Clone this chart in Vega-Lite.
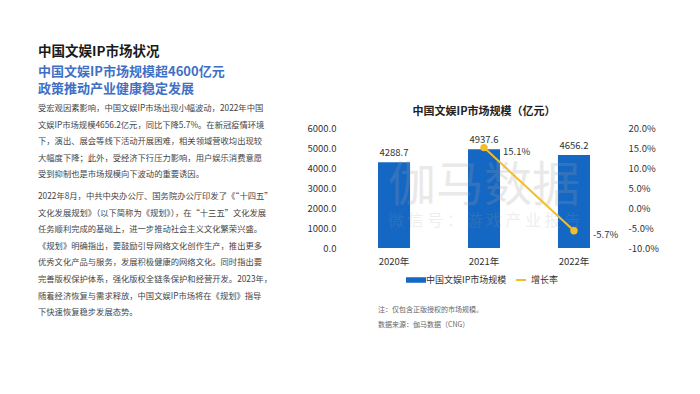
{
  "$schema": "https://vega.github.io/schema/vega-lite/v6.json",
  "background": "white",
  "padding": {"left": 38, "top": 44, "right": 5, "bottom": 5},
  "config": {
    "font": "Noto Sans CJK SC",
    "view": {"stroke": null},
    "axis": {"labelOverlap": false},
    "legend": {"layout": {"bottom": {"anchor": "middle"}}}
  },
  "title": {
    "text": "中国文娱IP市场状况",
    "subtitle": ["中国文娱IP市场规模超4600亿元", "政策推动产业健康稳定发展"],
    "anchor": "start",
    "fontSize": 13.5,
    "fontWeight": "bold",
    "color": "#1a1a1a",
    "subtitleColor": "#3f70c6",
    "subtitleFontSize": 13,
    "subtitleFontWeight": "bold",
    "subtitleLineHeight": 17,
    "subtitlePadding": 8,
    "offset": 8
  },
  "spacing": 18,
  "resolve": {"scale": {"fill": "independent", "stroke": "independent"}},
  "hconcat": [
    {
      "width": 250,
      "height": 88,
      "data": {
        "values": [
          {"para": "p1", "text": "受宏观因素影响，中国文娱IP市场出现小幅波动，2022年中国\n文娱IP市场规模4656.2亿元，同比下降5.7%。在新冠疫情环境\n下，演出、展会等线下活动开展困难，相关领域营收均出现较\n大幅度下降；此外，受经济下行压力影响，用户娱乐消费意愿\n受到抑制也是市场规模向下波动的重要诱因。"},
          {"para": "p2", "text": "2022年8月，中共中央办公厅、国务院办公厅印发了《“十四五”\n文化发展规划》（以下简称为《规划》），在“十三五”文化发展\n任务顺利完成的基础上，进一步推动社会主义文化繁荣兴盛。\n《规划》明确指出，要鼓励引导网络文化创作生产，推出更多\n优秀文化产品与服务，发展积极健康的网络文化。同时指出要\n完善版权保护体系，强化版权全链条保护和经营开发。2023年，\n随着经济恢复与需求释放，中国文娱IP市场将在《规划》指导\n下快速恢复稳步发展态势。"}
        ]
      },
      "mark": {"type": "text", "align": "left", "baseline": "top", "dy": -24, "fontSize": 8.3, "lineHeight": 16.6, "lineBreak": "\n", "color": "#454545"},
      "encoding": {
        "x": {"datum": 0, "type": "quantitative", "scale": {"domain": [0, 1]}, "axis": null},
        "y": {"field": "para", "type": "ordinal", "scale": {"type": "point", "padding": 0}, "axis": null},
        "text": {"field": "text"}
      }
    },
    {
      "spacing": 21,
      "resolve": {"scale": {"fill": "independent", "stroke": "independent"}},
      "vconcat": [
        {
          "width": 278,
          "height": 120,
          "title": {"text": "中国文娱IP市场规模（亿元）", "fontSize": 11, "fontWeight": "bold", "color": "#222222", "offset": 6, "anchor": "middle"},
          "data": {
            "values": [
              {"year": "2020年", "size": 4288.7, "growth": null, "growthLabel": null},
              {"year": "2021年", "size": 4937.6, "growth": 0.151, "growthLabel": "15.1%"},
              {"year": "2022年", "size": 4656.2, "growth": -0.057, "growthLabel": "-5.7%"}
            ]
          },
          "encoding": {
            "x": {
              "field": "year", "type": "nominal", "sort": null,
              "scale": {"type": "band", "domain": ["2020年", "2021年", "2022年"], "paddingInner": 0.644, "paddingOuter": 0.367},
              "axis": {"title": null, "labelAngle": 0, "domain": false, "ticks": false, "labelPadding": 8, "labelFontSize": 9.5, "labelColor": "#333333"}
            }
          },
          "layer": [
            {
              "layer": [
                {
                  "mark": {"type": "bar"},
                  "encoding": {
                    "y": {
                      "field": "size", "type": "quantitative",
                      "scale": {"domain": [0, 6000], "nice": false},
                      "axis": {"title": null, "tickCount": 6, "format": ".1f", "labelOverlap": false, "domain": false, "ticks": false, "grid": false, "labelPadding": 9, "labelFontSize": 9.5, "labelColor": "#333333"}
                    },
                    "fill": {
                      "datum": "中国文娱IP市场规模",
                      "scale": {"range": ["#1467c3"]},
                      "legend": {"title": null, "orient": "bottom", "symbolType": "M-2,-0.55H2V0.55H-2Z", "symbolSize": 100, "labelFontSize": 9, "labelColor": "#333333", "offset": 8}
                    }
                  }
                },
                {
                  "data": {"values": [{"wm": "伽马数据"}]},
                  "mark": {"type": "text", "fontSize": 48, "color": "#a0a0a0", "opacity": 0.22, "baseline": "middle", "align": "center"},
                  "encoding": {
                    "x": {"datum": "2021年"},
                    "y": {"datum": 3050, "type": "quantitative"},
                    "text": {"field": "wm"}
                  }
                },
                {
                  "data": {"values": [{"wm": "微 信 号 ： 游 戏 产 业 报 告"}]},
                  "mark": {"type": "text", "fontSize": 16, "color": "#a0a0a0", "opacity": 0.17, "baseline": "middle", "align": "center"},
                  "encoding": {
                    "x": {"datum": "2021年"},
                    "y": {"datum": 1350, "type": "quantitative"},
                    "text": {"field": "wm"}
                  }
                },
                {
                  "mark": {"type": "text", "baseline": "bottom", "dy": -4, "fontSize": 9.5, "color": "#333333"},
                  "encoding": {
                    "y": {"field": "size", "type": "quantitative"},
                    "text": {"field": "size", "type": "quantitative", "format": ".1f"}
                  }
                }
              ]
            },
            {
              "transform": [{"filter": "datum.growth != null"}],
              "layer": [
                {
                  "mark": {"type": "line", "strokeWidth": 2},
                  "encoding": {
                    "y": {
                      "field": "growth", "type": "quantitative",
                      "scale": {"domain": [-0.1, 0.2], "nice": false},
                      "axis": {"orient": "right", "title": null, "tickCount": 6, "format": ".1%", "labelExpr": "replace(datum.label, '−', '-')", "labelOverlap": false, "domain": false, "ticks": false, "grid": false, "labelPadding": 5, "labelFontSize": 9.5, "labelColor": "#333333"}
                    },
                    "stroke": {
                      "datum": "增长率",
                      "scale": {"range": ["#f2be2c"]},
                      "legend": {"title": null, "orient": "bottom", "symbolType": "stroke", "symbolStrokeWidth": 2, "symbolSize": 100, "labelFontSize": 9, "labelColor": "#333333", "offset": 8}
                    }
                  }
                },
                {
                  "mark": {"type": "point", "filled": true, "size": 55, "color": "#f2be2c", "opacity": 1},
                  "encoding": {
                    "y": {"field": "growth", "type": "quantitative"}
                  }
                },
                {
                  "mark": {"type": "text", "align": "left", "baseline": "middle", "dx": 19, "dy": 4, "fontSize": 9.5, "color": "#333333"},
                  "encoding": {
                    "y": {"field": "growth", "type": "quantitative"},
                    "text": {"field": "growthLabel"}
                  }
                }
              ]
            }
          ],
          "resolve": {"scale": {"y": "independent"}}
        },
        {
          "width": 278,
          "height": 15,
          "data": {
            "values": [
              {"n": "a", "text": "注：仅包含正版授权的市场规模。"},
              {"n": "b", "text": "数据来源：伽马数据（CNG）"}
            ]
          },
          "mark": {"type": "text", "align": "left", "baseline": "middle", "fontSize": 7, "color": "#666666"},
          "encoding": {
            "x": {"datum": "2020年", "type": "nominal", "bandPosition": 0, "scale": {"type": "band", "domain": ["2020年", "2021年", "2022年"], "paddingInner": 0.644, "paddingOuter": 0.367}, "axis": null},
            "y": {"field": "n", "type": "ordinal", "scale": {"type": "point", "padding": 0}, "axis": null},
            "text": {"field": "text"}
          }
        }
      ]
    }
  ]
}
